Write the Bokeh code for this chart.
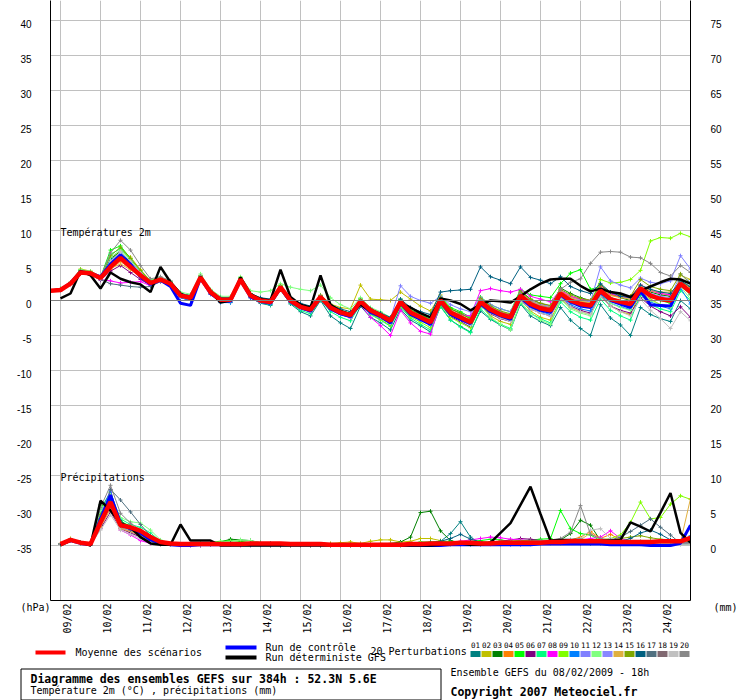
import numpy as np
from bokeh.plotting import figure
from bokeh.models import (Range1d, LinearAxis, FixedTicker, CustomJSTickFormatter,
                          Span, Label, Grid)
from bokeh.embed import file_html
from bokeh.resources import INLINE
from bokeh.core.properties import value

# ---------------- data ----------------
HOURS = list(range(0, 385, 6))          # hours after 08/02/2009 18h
DAY_LABELS = ["09/02", "10/02", "11/02", "12/02", "13/02", "14/02", "15/02", "16/02",
              "17/02", "18/02", "19/02", "20/02", "21/02", "22/02", "23/02", "24/02"]
TEMP_TICKS = [-35, -30, -25, -20, -15, -10, -5, 0, 5, 10, 15, 20, 25, 30, 35, 40]
PRECIP_TICKS = [0, 5, 10, 15, 20, 25, 30, 35, 40, 45, 50, 55, 60, 65, 70, 75]
PERT_NAMES = ["01", "02", "03", "04", "05", "06", "07", "08", "09", "10",
              "11", "12", "13", "14", "15", "16", "17", "18", "19", "20"]
PERT_COLORS = ["#008080", "#c0c000", "#008000", "#ff8000", "#00ff00", "#800080", "#00ff80",
               "#ff00ff", "#80ff00", "#0080ff", "#8080ff", "#80ff80", "#8888ff", "#e0b040",
               "#80a800", "#006080", "#507080", "#806870", "#c0c0c0", "#888888"]

# temperature 2m (degC)
T_MEAN = [1.4,1.5,2.4,4.0,3.9,3.2,4.8,6.1,4.8,3.6, 2.5,3.0,2.4,0.7,0.4,3.3,1.2,0.1,0.1,3.0,
          0.7,0.0,-0.2,1.9,0.0,-0.9,-1.3,0.5,-1.0,-1.7, -2.1,-0.1,-1.4,-2.1,-2.9,-0.2,-1.7,-2.4,-3.1,0.0,
          -1.7,-2.4,-3.1,-0.2,-1.3,-2.0,-2.4,0.7,-0.5,-1.1, -1.4,1.0,0.0,-0.5,-0.7,1.4,0.2,-0.2,-0.5,1.7,
          0.7,0.2,0.0,2.4,1.2]
T_CTRL = [1.4,1.5,2.5,4.1,3.9,3.4,5.2,6.5,5.2,3.4, 2.3,2.9,2.0,-0.4,-0.7,3.2,1.0,0.0,-0.1,2.9,
          0.5,-0.1,-0.4,1.8,-0.2,-1.0,-1.5,0.4,-1.2,-1.9, -2.3,-0.3,-1.7,-2.3,-3.2,-0.4,-2.0,-2.7,-3.4,-0.2,
          -2.0,-2.7,-3.3,-0.5,-1.6,-2.2,-2.7,0.4,-0.8,-1.4, -1.7,0.8,-0.2,-0.8,-1.0,1.2,0.0,-0.5,-1.0,1.3,
          -0.6,-0.7,-0.8,2.3,1.3]
T_DET = [None,0.3,1.0,4.2,3.6,1.7,4.0,3.1,2.6,2.3, 1.2,4.8,2.6,1.0,0.2,3.4,1.3,-0.3,0.0,3.3,
         0.9,0.2,0.0,4.4,0.5,-0.6,-1.0,3.6,-0.6,-1.5, -2.0,-0.6,-1.5,-2.2,-2.8,-0.4,-1.0,-1.8,-2.4,0.3,
         0.0,-0.5,-1.4,-0.6,0.0,-0.1,-0.3,0.6,1.6,2.4, 3.0,3.1,3.1,2.1,1.3,1.7,1.2,1.0,0.5,1.4,
         2.0,2.6,3.1,3.0,2.4]

T_P01 = [1.5,1.6,2.5, 4.3,4.0,3.0, 5.5,6.6,5.6,4.0, 2.6,3.2,2.3,0.5,0.0,3.1, 1.0,-0.2,-0.3,2.8,0.4,-0.4,-0.7,
         1.5,-0.5,-1.6,-2.2,0.0,-2.2,-3.2,-4.0, -0.8,-2.4,-3.2,-4.2,-1.2,-2.8,-3.6,-4.5,
         -0.8,-2.8,-3.7,-4.5,-1.5,-2.7,-3.5,-4.2, -0.5,-2.2,-3.0,-3.6,-1.0,-2.8,-4.0,-5.0,
         -0.6,-2.5,-3.5,-5.0,-1.0,-2.0,-2.6,-3.0,0.0,-1.2]
T_P02 = [1.3,1.5,2.6, 4.5,4.2,3.4, 5.6,7.3,6.2,4.4, 2.8,3.2,2.6,0.9,0.5,3.5, 1.4,0.3,0.3,3.2,1.0,0.3,0.1,
         2.2,0.3,-0.6,-1.0,0.8,-0.5,-1.0,-1.2, 2.2,0.2,0.1,0.0,1.2,0.2,-0.8,-1.5,
         0.8,-1.5,-2.3,-3.3,-0.6,-2.2,-3.0,-3.4, 0.2,-1.5,-2.4,-2.8,0.2,-1.0,-1.6,-2.0,
         0.8,-0.8,-1.6,-2.0,1.2,0.2,-0.6,-0.8,3.6,3.0]
T_P03 = [1.4,1.6,2.5, 4.2,4.0,3.2, 6.0,7.0,5.4,3.8, 2.6,3.1,2.5,0.8,0.5,3.4, 1.3,0.2,0.2,3.1,0.8,0.1,-0.1,
         2.0,0.1,-0.8,-1.2,0.6,-0.9,-1.6,-2.0, 0.2,-1.2,-1.8,-2.6,0.1,-1.4,-2.0,-2.8,
         0.4,-1.2,-1.8,-2.6,0.4,-0.8,-1.6,-2.0, 1.4,0.2,-0.4,-0.8,1.8,1.0,0.4,0.0,
         2.2,1.0,0.4,0.0,2.0,1.2,0.8,0.6,2.8,1.8]
T_P04 = [1.4,1.5,2.4, 3.9,3.8,3.1, 4.4,5.6,4.5,3.4, 2.4,2.9,2.3,0.6,0.3,3.2, 1.1,0.0,0.0,2.9,0.6,-0.1,-0.3,
         1.8,-0.1,-1.0,-1.4,0.4,-1.1,-1.8,-2.2, -0.2,-1.5,-2.2,-3.0,-0.3,-1.8,-2.5,-3.2,
         -0.2,-1.8,-2.5,-3.2,0.0,-1.0,-1.6,-2.0, 1.2,0.0,-0.6,-0.8,1.4,0.5,0.2,0.0,
         1.8,0.8,0.5,0.6,2.2,1.4,1.0,0.8,2.8,1.8]
T_P05 = [1.5,1.7,2.6, 4.4,4.1,3.3, 7.2,7.8,6.0,4.2, 2.9,3.3,2.7,1.0,0.7,3.6, 1.5,0.4,0.3,3.3,0.9,0.2,0.0,
         2.1,0.2,-0.7,-1.1,0.7,-0.8,-1.4,-1.8, 0.3,-1.1,-1.8,-2.6,0.2,-1.3,-2.0,-2.7,
         0.6,-1.0,-1.6,-2.4,0.5,-0.6,-1.2,-1.6, 1.6,0.8,0.6,0.4,2.4,3.9,4.4,1.6,
         2.0,0.4,-0.2,-0.6,1.8,0.6,0.0,-0.4,2.2,0.8]
T_P06 = [1.3,1.4,2.3, 3.8,3.7,2.9, 4.2,5.0,4.0,3.0, 2.2,2.8,2.1,0.4,0.0,3.0, 0.9,-0.2,-0.2,2.7,0.4,-0.3,-0.5,
         1.6,-0.3,-1.2,-1.6,0.2,-1.3,-2.0,-2.4, -0.4,-1.7,-2.5,-3.3,-0.6,-2.1,-2.8,-3.5,
         -0.6,-2.3,-3.0,-3.8,-0.8,-1.9,-2.6,-3.0, 0.0,-1.2,-1.8,-2.2,0.4,-0.8,-1.4,-1.8,
         0.6,-0.8,-1.4,-1.8,0.4,-0.8,-1.6,-2.2,-0.9,-2.4]
T_P07 = [1.4,1.6,2.5, 4.3,4.0,3.2, 6.6,7.4,5.8,4.2, 2.7,3.1,2.5,0.7,0.3,3.4, 1.2,0.0,-0.1,2.9,0.5,-0.3,-0.6,
         1.7,-0.4,-1.4,-1.9,0.1,-1.6,-2.4,-2.9, -0.6,-2.0,-2.8,-3.7,-0.9,-2.5,-3.4,-4.2,
         -0.9,-2.8,-3.8,-4.6,-1.2,-2.6,-3.4,-4.0, -0.4,-1.8,-2.6,-3.2,-0.2,-1.6,-2.4,-2.8,
         0.2,-1.4,-2.2,-2.8,0.8,-0.6,-1.2,-1.6,1.4,0.0]
T_P08 = [1.4,1.5,2.4, 4.0,3.8,3.0, 2.8,2.5,2.6,2.7, 2.1,2.7,2.2,0.5,0.1,3.1, 1.0,-0.1,-0.1,2.8,0.5,-0.2,-0.4,
         1.7,-0.2,-1.1,-1.6,0.3,-1.2,-2.0,-2.5, -0.6,-2.4,-3.6,-5.0,-1.4,-3.2,-4.4,-4.8,
         -0.4,-1.6,-2.0,-2.2,1.4,1.7,1.4,1.2, 1.6,0.6,0.2,-0.2,1.5,0.6,0.2,0.0,
         2.0,1.0,0.6,0.4,2.2,1.4,1.0,0.8,2.6,1.4]
T_P09 = [1.5,1.6,2.5, 4.1,3.9,3.2, 5.0,6.4,5.0,3.7, 2.5,3.0,2.4,0.7,0.4,3.3, 1.2,0.1,0.0,3.0,0.7,0.0,-0.2,
         1.8,-0.1,-1.0,-1.5,0.3,-1.2,-1.9,-2.4, -0.4,-1.9,-2.7,-3.6,-0.8,-2.3,-3.1,-3.9,
         -0.6,-2.4,-3.2,-3.9,-0.8,-1.8,-2.4,-2.8, 0.6,-0.6,-1.2,-1.5,1.0,0.2,-0.2,-0.4,
         3.0,2.5,2.6,3.0,4.3,8.5,9.0,8.9,9.6,9.1]
T_P10 = [1.4,1.5,2.4, 4.0,3.9,3.2, 5.8,6.8,5.2,3.5, 2.3,2.9,2.2,0.4,0.0,3.1, 0.9,-0.3,-0.3,2.8,0.4,-0.3,-0.5,
         1.6,-0.3,-1.2,-1.6,0.2,-1.3,-2.0,-2.4, -0.4,-1.8,-2.5,-3.3,-0.5,-2.0,-2.8,-3.5,
         -0.3,-2.0,-2.8,-3.5,-0.5,-1.6,-2.3,-2.8, 0.2,-1.0,-1.6,-2.0,0.6,-0.6,-1.2,-1.5,
         0.8,-0.4,-0.9,-1.3,1.0,-0.2,-0.8,-1.2,1.8,-0.5]
T_P11 = [1.5,1.6,2.5, 4.2,4.0,3.3, 5.2,6.3,5.0,3.8, 2.6,3.0,2.5,0.8,0.5,3.4, 1.3,0.2,0.2,3.1,0.8,0.1,-0.1,
         2.0,0.1,-0.8,-1.2,0.7,-0.8,-1.5,-1.9, 0.0,-1.2,-1.9,-2.6,2.1,0.6,0.0,-0.4,
         0.6,-0.6,-1.2,-1.6,0.4,-0.6,-1.2,-1.6, 1.2,0.0,-0.6,-0.8,1.2,0.4,0.0,-0.2,
         4.8,2.8,2.2,1.8,3.2,2.6,2.4,2.8,6.4,4.5]
T_P12 = [1.5,1.6,2.6, 4.4,4.2,3.4, 6.2,7.2,5.8,4.2, 2.9,3.3,2.8,1.2,0.9,3.8, 1.6,0.6,0.6,3.4,1.4,1.2,1.4,
         2.4,1.9,1.6,1.4,2.2,0.4,-0.6,-1.2, 0.4,-1.0,-1.6,-2.4,0.2,-1.4,-2.2,-2.9,
         0.0,-1.8,-2.6,-3.4,-0.6,-2.4,-3.4,-4.2, -0.2,-1.8,-2.8,-3.4,0.2,-1.2,-1.8,-2.2,
         1.0,-0.4,-1.0,-1.4,1.2,0.0,-0.6,-1.0,2.0,0.2]
T_P13 = [1.4,1.5,2.4, 4.1,3.9,3.2, 5.4,6.9,5.6,4.0, 2.5,3.0,2.4,0.7,0.3,3.3, 1.1,0.0,0.0,2.9,0.6,-0.1,-0.3,
         1.8,-0.1,-1.0,-1.4,0.4,-1.1,-1.8,-2.2, -0.2,-1.6,-2.3,-3.1,-0.4,-1.9,-2.6,-3.3,
         -0.2,-1.9,-2.6,-3.2,-0.3,-1.4,-2.1,-2.5, 0.9,-0.3,-0.9,-1.2,1.2,0.2,-0.3,-0.5,
         1.6,0.4,0.0,-0.3,2.0,1.0,0.6,0.4,3.8,2.6]
T_P14 = [1.4,1.5,2.4, 4.0,3.9,3.1, 4.6,5.2,4.4,3.4, 2.4,2.9,2.4,0.7,0.4,3.3, 1.2,0.1,0.1,3.0,0.7,0.0,-0.2,
         1.9,0.0,-0.9,-1.3,0.5,-1.0,-1.7,-2.1, 0.0,-1.3,-2.0,-2.8,0.0,-1.5,-2.2,-2.9,
         0.2,-1.4,-2.1,-2.8,0.2,-0.9,-1.6,-2.0, 1.1,-0.1,-0.7,-1.0,1.3,0.4,-0.1,-0.3,
         1.8,0.7,0.4,0.2,2.0,1.4,1.2,1.2,2.2,1.6]
T_P15 = [1.5,1.6,2.5, 4.3,4.1,3.3, 6.4,7.6,6.0,4.3, 2.8,3.2,2.6,0.9,0.6,3.5, 1.4,0.3,0.2,3.2,0.9,0.2,0.0,
         2.1,0.2,-0.7,-1.1,0.7,-0.8,-1.5,-1.9, 0.1,-1.2,-1.9,-2.7,0.1,-1.4,-2.1,-2.8,
         0.4,-1.2,-1.9,-2.6,0.3,-0.8,-1.5,-1.9, 1.2,0.2,-0.4,-0.7,1.6,0.8,0.3,0.0,
         2.2,1.2,0.8,0.6,3.0,2.0,1.6,1.4,3.8,2.4]
T_P16 = [1.4,1.5,2.4, 4.1,3.9,3.1, 5.0,6.0,4.8,3.6, 2.6,3.1,2.6,1.0,0.7,3.3, 1.4,0.4,0.4,3.0,1.0,0.4,0.2,
         1.8,0.3,-0.4,-0.8,0.6,-0.6,-1.2,-1.6, 0.0,-1.2,-1.8,-2.4,0.2,-1.0,-1.6,-2.0,
         1.2,1.4,1.5,1.6,4.8,3.4,2.9,2.4, 4.8,3.3,2.9,2.4,3.4,2.0,1.4,1.0,
         2.4,1.2,0.6,0.4,2.2,1.6,1.2,1.0,2.8,2.0]
T_P17 = [1.4,1.5,2.4, 4.0,3.8,3.0, 2.4,2.2,2.0,1.9, 2.0,2.7,2.2,0.6,0.2,3.1, 1.0,-0.1,-0.1,2.8,0.5,-0.2,-0.4,
         1.7,-0.2,-1.1,-1.5,0.3,-1.2,-1.9,-2.3, -0.3,-1.6,-2.3,-3.1,-0.4,-1.9,-2.6,-3.3,
         -0.1,-1.8,-2.5,-3.2,-0.2,-1.3,-2.0,-2.4, 0.8,-0.4,-1.0,-1.3,1.0,0.0,-0.5,-0.7,
         1.4,0.2,-0.2,-0.5,1.8,0.8,0.4,0.2,2.8,1.4]
T_P18 = [1.4,1.5,2.4, 4.0,3.9,3.2, 4.8,6.0,4.8,3.6, 2.5,3.0,2.4,0.6,0.3,3.2, 1.1,0.0,0.0,2.9,0.6,-0.1,-0.3,
         1.8,-0.1,-1.0,-1.4,0.4,-1.1,-1.8,-2.2, -0.2,-1.5,-2.2,-3.0,-0.3,-1.8,-2.5,-3.2,
         -0.1,-1.8,-2.5,-3.2,-0.3,-1.4,-2.1,-2.5, 0.6,-0.6,-1.2,-1.5,0.9,-0.1,-0.6,-0.8,
         1.3,0.1,-0.3,-0.6,1.6,0.6,0.1,-0.1,2.2,0.9]
T_P19 = [1.3,1.4,2.3, 3.9,3.8,3.1, 5.6,7.0,5.6,3.9, 2.4,2.9,2.3,0.5,0.2,3.1, 1.0,-0.1,-0.1,2.8,0.5,-0.2,-0.4,
         1.7,-0.2,-1.1,-1.5,0.3,-1.2,-1.9,-2.3, -0.3,-1.7,-2.4,-3.2,-0.5,-2.0,-2.7,-3.4,
         -0.4,-2.1,-2.8,-3.5,-0.6,-1.8,-2.5,-3.0, 0.0,-1.2,-1.8,-2.2,0.4,-0.9,-1.6,-2.0,
         0.6,-0.8,-1.6,-2.2,0.2,-1.4,-2.6,-4.0,-1.6,-2.9]
T_P20 = [1.5,1.6,2.5, 4.2,4.0,3.3, 6.8,8.6,7.2,5.0, 3.1,3.4,2.8,1.0,0.6,3.5, 1.4,0.3,0.2,3.1,0.8,0.1,-0.1,
         2.0,0.1,-0.8,-1.2,0.6,-0.9,-1.6,-2.0, 0.0,-1.4,-2.1,-2.9,-0.2,-1.7,-2.4,-3.1,
         0.2,-1.5,-2.2,-2.9,0.0,-1.0,-1.7,-2.1, 1.0,-0.2,-0.8,-1.0,1.6,2.6,3.1,5.3,
         6.9,7.0,6.9,6.2,6.1,5.3,4.0,3.5,5.0,4.0]

# precipitation per 6h (mm); no value at the analysis time
R_MEAN = [None,0.2,0.8,0.4,0.2,3.3,6.2,2.9,2.6,2.1,1.2,0.5,0.3,
          0.2,0.2,0.2,0.2,0.2,0.2,0.2,0.3,0.3,0.3,0.3,0.2,0.2,0.2,0.2,0.1,0.1,0.1,
          0.1,0.1,0.1,0.1,0.1,0.2,0.2,0.3,0.3,0.3, 0.4,0.4,0.3,0.3,0.4,0.4,0.4,0.4,0.4,0.5,
          0.5,0.6,0.6,0.6,0.6,0.5,0.5,0.5,0.5,0.5, 0.6,0.6,0.6,1.1]
R_CTRL = [None,0.2,0.7,0.3,0.1,3.8,7.2,3.2,2.4,1.8,0.8,0.3,0.1,
          0.0,0.0,0.1,0.1,0.1,0.1,0.1,0.1,0.1,0.1,0.1,0.1,0.1,0.1,0.1,0.1,0.1,0.1,
          0.1,0.1,0.0,0.0,0.0,0.0,0.0,0.0,0.0,0.1, 0.1,0.1,0.1,0.1,0.1,0.1,0.1,0.1,0.2,0.2,
          0.2,0.2,0.2,0.2,0.2,0.1,0.1,0.1,0.1,0.0, 0.0,0.0,0.3,2.9]
R_DET = [None,0.0,0.7,0.5,0.0,6.4,5.0,3.2,2.6,1.2,0.3,0.1,0.1,
         3.0,0.7,0.7,0.7,0.0,0.0,0.0,0.0,0.0,0.0,0.0,0.0,0.0,0.0,0.0,0.0,0.0,0.0,
         0.0,0.0,0.0,0.0,0.0,0.0,0.0,0.0,0.1,0.2, 0.3,0.1,0.1,0.4,1.8,3.2,5.8,8.4,4.5,0.7,
         0.8,0.8,0.8,0.7,0.7,0.7,0.8,3.3,2.7,2.0, 4.7,7.5,1.8,0.4]

R_P01 = [None,0.2,0.8,0.3,0.1,4.2,6.8,3.0,2.2,1.5,0.8,0.3,0.1,
         0.0,0.1,0.0,0.1,0.2,0.2,0.3,0.2,0.1,0.1,0.0,0.0,0.0,0.0,0.0,0.0,0.0,0.0,
         0.0,0.1,0.1,0.1,0.0,0.1,0.2,0.4,0.6,1.7, 3.4,1.2,0.3,0.2,0.2,0.3,0.3,0.2,0.3,0.4,
         0.5,0.4,0.3,0.3,0.5,0.3,0.2,0.3,0.2,0.3, 0.2,0.2,0.3,0.4]
R_P02 = [None,0.3,1.0,0.4,0.1,2.8,5.6,2.6,2.0,1.3,0.6,0.2,0.1,
         0.1,0.1,0.2,0.3,0.3,0.3,0.2,0.2,0.1,0.1,0.1,0.0,0.0,0.1,0.2,0.3,0.4,0.5,
         0.3,0.6,0.8,0.8,0.5,0.6,1.0,1.0,0.7,0.4, 0.3,0.2,0.2,0.3,0.3,0.2,0.2,0.3,0.3,0.4,
         0.6,0.5,0.4,0.5,0.8,0.6,0.5,0.4,0.3,0.4, 0.3,0.3,0.6,0.8]
R_P03 = [None,0.2,0.7,0.3,0.1,5.8,6.4,3.6,2.5,1.6,0.7,0.3,0.1,
         0.1,0.1,0.2,0.4,0.5,0.9,0.8,0.7,0.4,0.2,0.1,0.1,0.1,0.1,0.1,0.1,0.1,0.1,
         0.1,0.1,0.2,0.3,0.5,1.2,4.7,4.9,2.1,0.7, 0.4,0.3,0.2,0.3,0.4,0.5,0.6,0.5,0.4,0.5,
         0.8,1.7,3.6,2.9,0.7,0.5,0.4,0.4,0.3,0.3, 0.2,0.2,0.3,0.4]
R_P04 = [None,0.2,0.9,0.3,0.1,3.0,6.0,3.0,2.3,1.4,0.6,0.2,0.1,
         0.1,0.1,0.1,0.2,0.2,0.2,0.2,0.1,0.1,0.1,0.1,0.0,0.0,0.0,0.0,0.0,0.0,0.0,
         0.0,0.1,0.1,0.1,0.1,0.2,0.2,0.3,0.3,0.2, 0.2,0.3,0.3,0.4,0.4,0.5,0.4,0.4,0.4,0.5,
         0.6,0.8,1.2,2.0,1.0,1.6,0.8,0.6,0.5,0.5, 0.4,0.4,0.5,0.6]
R_P05 = [None,0.2,0.8,0.3,0.1,5.2,7.6,3.4,2.8,2.0,1.0,0.4,0.2,
         0.2,0.2,0.3,0.4,0.6,0.7,0.6,0.4,0.3,0.2,0.1,0.1,0.0,0.0,0.0,0.0,0.1,0.1,
         0.1,0.1,0.1,0.2,0.2,0.3,0.5,0.5,0.6,0.6, 0.5,0.6,0.7,0.9,0.8,0.6,0.7,0.8,0.9,1.0,
         5.0,2.4,1.7,1.5,0.7,0.5,0.4,0.3,0.3,0.2, 0.2,0.2,0.2,0.3]
R_P06 = [None,0.2,0.7,0.3,0.1,2.4,4.8,2.4,1.8,1.2,0.5,0.2,0.1,
         0.1,0.0,0.0,0.1,0.1,0.1,0.1,0.1,0.0,0.0,0.0,0.0,0.0,0.0,0.0,0.0,0.0,0.0,
         0.0,0.0,0.1,0.1,0.1,0.1,0.2,0.3,0.4,0.4, 0.6,0.5,0.4,0.5,0.6,0.8,1.0,0.9,0.7,0.6,
         0.5,0.4,0.3,0.3,0.3,0.4,0.4,0.3,0.3,0.2, 0.2,0.3,0.2,0.2]
R_P07 = [None,0.2,0.8,0.4,0.1,4.6,7.0,3.8,3.0,2.6,1.8,0.6,0.2,
         0.1,0.1,0.2,0.2,0.3,0.3,0.2,0.1,0.1,0.0,0.0,0.0,0.0,0.0,0.0,0.0,0.0,0.0,
         0.0,0.0,0.1,0.1,0.2,0.2,0.3,0.3,0.3,0.2, 0.2,0.2,0.2,0.3,0.2,0.2,0.2,0.2,0.3,0.3,
         0.3,0.4,0.4,0.3,0.3,0.3,0.2,0.3,0.3,0.3, 0.3,0.2,0.2,0.3]
R_P08 = [None,0.2,0.7,0.3,0.1,4.0,8.0,2.2,1.5,0.7,0.3,0.1,0.1,
         0.0,0.0,0.0,0.1,0.1,0.1,0.0,0.0,0.0,0.0,0.0,0.0,0.0,0.0,0.0,0.0,0.0,0.0,
         0.0,0.0,0.0,0.1,0.1,0.1,0.1,0.2,0.3,0.4, 0.6,0.8,1.0,1.2,1.1,0.9,0.8,0.7,0.5,0.4,
         0.6,0.6,0.8,1.0,1.2,2.1,1.0,0.6,0.5,0.4, 0.4,0.3,0.3,0.4]
R_P09 = [None,0.2,0.8,0.3,0.1,3.6,6.2,3.0,2.4,1.6,0.8,0.3,0.1,
         0.1,0.1,0.1,0.2,0.2,0.2,0.1,0.1,0.1,0.1,0.1,0.0,0.0,0.0,0.0,0.0,0.0,0.0,
         0.0,0.1,0.1,0.1,0.1,0.2,0.3,0.2,0.2,0.2, 0.3,0.2,0.3,0.4,0.3,0.3,0.4,0.4,0.5,0.5,
         0.6,0.6,0.7,0.6,0.8,1.0,1.5,3.3,6.2,3.8, 4.0,5.9,7.1,6.6]
R_P10 = [None,0.2,0.8,0.4,0.1,4.8,7.8,3.2,2.6,1.8,0.8,0.2,0.1,
         0.1,0.1,0.1,0.1,0.1,0.1,0.1,0.1,0.0,0.0,0.0,0.0,0.0,0.0,0.0,0.0,0.0,0.0,
         0.0,0.0,0.0,0.1,0.1,0.1,0.1,0.1,0.2,0.2, 0.2,0.2,0.3,0.3,0.4,0.3,0.4,0.5,0.4,0.4,
         0.4,0.5,0.6,0.6,0.5,0.5,0.4,0.4,0.4,0.3, 0.3,0.3,0.4,1.4]
R_P11 = [None,0.2,0.7,0.3,0.1,3.4,6.6,2.8,2.2,1.5,0.7,0.2,0.1,
         0.1,0.1,0.1,0.2,0.2,0.2,0.2,0.1,0.1,0.1,0.0,0.0,0.0,0.0,0.0,0.0,0.0,0.0,
         0.0,0.0,0.1,0.1,0.2,0.3,0.3,0.4,0.3,0.2, 0.2,0.1,0.1,0.2,0.2,0.1,0.1,0.2,0.3,0.4,
         0.5,0.6,0.5,0.4,0.4,0.5,0.6,0.5,0.4,0.3, 0.2,0.2,0.3,0.3]
R_P12 = [None,0.2,0.8,0.3,0.1,5.0,7.2,4.0,3.4,3.2,2.2,0.8,0.3,
         0.1,0.1,0.2,0.3,0.5,0.6,0.8,0.7,0.4,0.3,0.2,0.1,0.1,0.0,0.0,0.0,0.0,0.0,
         0.0,0.0,0.0,0.1,0.1,0.2,0.3,0.4,0.4,0.3, 0.3,0.2,0.2,0.3,0.3,0.4,0.4,0.5,0.5,0.5,
         0.5,0.6,0.5,0.5,0.4,0.4,0.3,0.3,0.3,0.2, 0.2,0.2,0.2,0.2]
R_P13 = [None,0.2,0.7,0.3,0.1,3.2,5.4,2.6,2.0,1.4,0.6,0.2,0.1,
         0.1,0.0,0.1,0.1,0.1,0.1,0.1,0.0,0.0,0.0,0.0,0.0,0.0,0.0,0.0,0.0,0.0,0.0,
         0.1,0.1,0.1,0.2,0.2,0.2,0.2,0.3,0.3,0.3, 0.3,0.3,0.3,0.4,0.4,0.4,0.3,0.3,0.4,0.4,
         0.7,0.8,0.7,0.6,0.5,0.6,0.5,0.4,0.3,0.3, 0.2,0.2,0.2,0.3]
R_P14 = [None,0.2,0.9,0.3,0.1,2.6,5.2,2.4,2.0,1.4,0.6,0.2,0.1,
         0.1,0.1,0.2,0.2,0.3,0.3,0.2,0.2,0.1,0.1,0.1,0.1,0.1,0.1,0.1,0.1,0.1,0.1,
         0.2,0.2,0.3,0.3,0.3,0.3,0.4,0.3,0.3,0.2, 0.2,0.2,0.3,0.3,0.3,0.3,0.4,0.4,0.3,0.3,
         0.4,0.5,0.8,1.8,0.8,0.5,0.4,0.4,0.4,0.4, 0.3,0.3,0.5,6.7]
R_P15 = [None,0.2,0.8,0.3,0.1,4.4,7.0,3.2,2.6,1.9,1.0,0.4,0.2,
         0.1,0.1,0.2,0.3,0.3,0.4,0.3,0.2,0.1,0.1,0.1,0.0,0.0,0.0,0.0,0.0,0.0,0.0,
         0.0,0.0,0.1,0.1,0.1,0.1,0.2,0.3,0.3,0.3, 0.4,0.4,0.5,0.5,0.6,0.6,0.7,0.7,0.6,0.5,
         0.6,0.8,0.9,0.7,0.6,0.8,1.0,1.2,1.4,1.1, 0.9,0.8,0.6,0.7]
R_P16 = [None,0.2,0.8,0.3,0.1,3.8,6.4,3.0,2.3,1.6,0.8,0.3,0.1,
         0.1,0.1,0.1,0.2,0.2,0.3,0.2,0.3,0.3,0.3,0.2,0.2,0.1,0.1,0.1,0.1,0.1,0.1,
         0.1,0.1,0.1,0.1,0.1,0.1,0.2,0.4,0.6,1.0, 1.6,0.9,0.5,0.4,0.4,0.4,0.5,0.6,0.6,0.5,
         0.5,0.6,0.6,0.5,0.6,0.8,0.6,1.0,1.8,2.2, 1.6,0.8,0.4,0.4]
R_P17 = [None,0.2,0.8,0.3,0.1,3.0,8.0,6.5,4.8,3.0,1.4,0.5,0.2,
         0.1,0.1,0.1,0.1,0.1,0.1,0.1,0.1,0.1,0.0,0.0,0.0,0.0,0.0,0.0,0.0,0.0,0.0,
         0.0,0.0,0.1,0.1,0.1,0.1,0.2,0.2,0.3,0.3, 0.4,0.3,0.3,0.3,0.4,0.3,0.3,0.4,0.5,0.4,
         0.4,0.5,0.6,0.6,0.6,0.8,1.2,2.0,2.9,3.8, 2.6,1.5,0.3,0.3]
R_P18 = [None,0.2,0.7,0.3,0.1,3.4,6.0,2.8,2.2,1.6,0.8,0.3,0.1,
         0.1,0.1,0.1,0.1,0.1,0.1,0.1,0.1,0.0,0.0,0.0,0.0,0.0,0.0,0.0,0.0,0.0,0.0,
         0.0,0.0,0.1,0.1,0.1,0.2,0.2,0.2,0.2,0.2, 0.2,0.2,0.2,0.3,0.3,0.3,0.3,0.3,0.3,0.4,
         0.4,0.4,0.5,0.5,0.5,0.6,0.6,0.5,0.5,0.4, 0.4,0.4,0.3,0.4]
R_P19 = [None,0.2,0.7,0.3,0.1,2.2,4.4,2.2,1.6,1.0,0.4,0.1,0.1,
         0.0,0.0,0.0,0.1,0.1,0.1,0.1,0.0,0.0,0.0,0.0,0.0,0.0,0.0,0.0,0.0,0.0,0.0,
         0.0,0.0,0.0,0.1,0.1,0.1,0.1,0.2,0.2,0.2, 0.2,0.2,0.2,0.2,0.2,0.2,0.3,0.3,0.4,0.5,
         0.6,0.8,1.0,2.2,2.4,1.0,0.6,0.4,0.3,0.3, 0.2,0.2,0.2,0.2]
R_P20 = [None,0.2,0.8,0.3,0.1,5.4,8.6,4.6,3.2,2.2,1.2,0.4,0.2,
         0.1,0.1,0.1,0.1,0.2,0.2,0.1,0.1,0.1,0.1,0.0,0.0,0.0,0.0,0.0,0.0,0.0,0.0,
         0.0,0.0,0.1,0.1,0.1,0.1,0.2,0.2,0.2,0.3, 0.3,0.3,0.4,0.4,0.5,0.5,0.6,0.6,0.7,0.8,
         1.0,1.9,5.7,1.6,1.0,0.8,0.7,0.6,0.6,0.5, 0.5,0.4,0.4,0.5]

T_PERTS = [T_P01, T_P02, T_P03, T_P04, T_P05, T_P06, T_P07, T_P08, T_P09, T_P10,
           T_P11, T_P12, T_P13, T_P14, T_P15, T_P16, T_P17, T_P18, T_P19, T_P20]
R_PERTS = [R_P01, R_P02, R_P03, R_P04, R_P05, R_P06, R_P07, R_P08, R_P09, R_P10,
           R_P11, R_P12, R_P13, R_P14, R_P15, R_P16, R_P17, R_P18, R_P19, R_P20]

for s in T_PERTS + R_PERTS + [T_MEAN, T_CTRL, T_DET, R_MEAN, R_CTRL, R_DET]:
    assert len(s) == len(HOURS), len(s)


def arr(v):
    return np.array([np.nan if x is None else x for x in v], dtype=float)


MONO = "DejaVu Sans Mono"
SANS = "Liberation Sans"

# ---------------- geometry (page pixels) ----------------
W = 740
LEFT, RIGHT, TOP, BOTTOM = 50, 690, 0, 600
X_END = 384.0
PX_PER_H = (RIGHT - LEFT) / X_END
PX_PER_DEG = 7.0
Y_TOP = (300 - TOP) / PX_PER_DEG
Y_BOTTOM = (300 - BOTTOM) / PX_PER_DEG
P_H = BOTTOM + 2          # main chart height (frame + axis line)
Q_H = 700 - P_H           # strip below: date labels, legend, caption

# ---------------- main chart ----------------
p = figure(width=W, height=P_H, x_range=Range1d(0, X_END), y_range=Range1d(Y_BOTTOM, Y_TOP),
           x_axis_type=None, y_axis_type=None, output_backend="svg", toolbar_location=None,
           min_border_left=LEFT, min_border_right=W - RIGHT, min_border_top=TOP,
           min_border_bottom=P_H - BOTTOM)
p.extra_y_ranges = {"precip": Range1d(Y_BOTTOM + 35, Y_TOP + 35)}
p.outline_line_color = None
p.background_fill_color = "white"
p.border_fill_color = "white"

day_ticks = [6 + 24 * k for k in range(len(DAY_LABELS))]
p.add_layout(Grid(dimension=0, ticker=FixedTicker(ticks=day_ticks),
                  grid_line_color="#c0c0c0", grid_line_width=1))
p.add_layout(Grid(dimension=1, ticker=FixedTicker(ticks=[v for v in TEMP_TICKS if v != 0]),
                  grid_line_color="#c0c0c0", grid_line_width=1))
p.add_layout(Span(location=0, dimension="width", line_color="#808080", line_width=1))

LABEL_SHIFT = 3.0 / 7.0


def style_axis(ax, standoff, font, size):
    ax.axis_line_color = "black"
    ax.axis_line_width = 1
    ax.major_tick_out = 0
    ax.major_tick_in = 0
    ax.minor_tick_out = 0
    ax.minor_tick_in = 0
    ax.major_label_standoff = standoff
    ax.major_label_text_color = "black"
    ax.major_label_text_font = font
    ax.major_label_text_font_size = size


yl = LinearAxis(ticker=FixedTicker(ticks=[v - LABEL_SHIFT for v in TEMP_TICKS]),
                formatter=CustomJSTickFormatter(code="return String(Math.round(tick + 3/7));"))
style_axis(yl, 19, SANS, "10px")
p.add_layout(yl, "left")

yr = LinearAxis(y_range_name="precip",
                ticker=FixedTicker(ticks=[v - LABEL_SHIFT for v in PRECIP_TICKS]),
                formatter=CustomJSTickFormatter(code="return String(Math.round(tick + 3/7));"))
style_axis(yr, 20, SANS, "10px")
p.add_layout(yr, "right")

# bottom axis line only; its date labels are drawn in the strip below with the same hour scale
xb = LinearAxis(ticker=FixedTicker(ticks=[]))
style_axis(xb, 0, MONO, "10px")
p.add_layout(xb, "below")

x = np.array(HOURS, dtype=float)

for tser, rser, col in zip(T_PERTS, R_PERTS, PERT_COLORS):
    ty = arr(tser)
    ry = arr(rser)
    p.line(x, ty, line_color=col, line_width=1)
    p.scatter(x, ty, marker="cross", size=4, line_color=col, line_width=1)
    p.line(x, ry, y_range_name="precip", line_color=col, line_width=1)
    p.scatter(x, ry, y_range_name="precip", marker="cross", size=4, line_color=col, line_width=1)

p.line(x, arr(T_CTRL), line_color="#0000ff", line_width=3)
p.line(x, arr(R_CTRL), y_range_name="precip", line_color="#0000ff", line_width=3)
p.line(x, arr(T_DET), line_color="black", line_width=2.5)
p.line(x, arr(R_DET), y_range_name="precip", line_color="black", line_width=2.5)
p.line(x, arr(T_MEAN), line_color="#ff0000", line_width=4.5)
p.line(x, arr(R_MEAN), y_range_name="precip", line_color="#ff0000", line_width=4.5)

for py, txt in [(232, "Températures 2m"), (477, "Précipitations")]:
    p.add_layout(Label(x=(60 - LEFT) / PX_PER_H, y=(300 - py) / PX_PER_DEG, text=txt,
                       text_font=MONO, text_font_size="10px", text_baseline="middle",
                       text_align="left", text_color="black"))

# ---------------- strip below the chart ----------------
# x: same hour scale as the chart, y: page pixels (downwards)
q = figure(width=W, height=Q_H,
           x_range=Range1d(-LEFT / PX_PER_H, (W - LEFT) / PX_PER_H),
           y_range=Range1d(700, P_H),
           x_axis_type=None, y_axis_type=None, output_backend="svg", toolbar_location=None,
           min_border=0, min_border_left=0, min_border_right=0, min_border_top=0,
           min_border_bottom=0)
q.outline_line_color = None
q.background_fill_color = "white"
q.border_fill_color = "white"


def hx(px):   # page pixel -> hours
    return (px - LEFT) / PX_PER_H


def qtext(px, py, txt, size="10px", style="normal", align="left"):
    q.text(x=[hx(px)], y=[py], text=[txt], text_font=value(MONO), text_font_size=value(size),
           text_font_style=value(style), text_baseline=value("middle"), text_align=value(align),
           text_color="black")


def qbox(l, r, t, b, fill):
    q.quad(left=[hx(l)], right=[hx(r)], top=[t], bottom=[b], fill_color=fill, line_color=None)


# date tick labels (vertical, reading upwards, just right of each day line)
q.text(x=[t + 4 for t in day_ticks], y=[603] * len(day_ticks), text=DAY_LABELS,
       angle=np.pi / 2, text_font=value(MONO), text_font_size=value("10px"),
       text_baseline=value("middle"), text_align=value("right"), text_color="black")

qtext(20, 607, "(hPa)")
qtext(713, 607, "(mm)")

qbox(35, 65, 650, 654, "#ff0000")
qtext(75, 652, "Moyenne des scénarios")
qbox(225, 256, 645, 649, "#0000ff")
qbox(225, 256, 655, 659, "black")
qtext(265, 647, "Run de contrôle")
qtext(265, 657, "Run déterministe GFS")
qtext(370, 651, "20 Perturbations")

box_left = [470 + 11 * k for k in range(len(PERT_NAMES))]
q.quad(left=[hx(b) for b in box_left], right=[hx(b + 10) for b in box_left],
       top=[650.5] * len(box_left), bottom=[656.5] * len(box_left),
       fill_color=PERT_COLORS, line_color=None)
q.text(x=[hx(b + 5) for b in box_left], y=[644] * len(box_left), text=PERT_NAMES,
       text_font=value(MONO), text_font_size=value("7.5px"), text_baseline=value("middle"),
       text_align=value("center"), text_color="black")

q.quad(left=[hx(20.5)], right=[hx(440.5)], top=[668.5], bottom=[699.5], fill_color=None,
       line_color="black", line_width=1)
qtext(30, 678, "Diagramme des ensembles GEFS sur 384h : 52.3N 5.6E", size="11.5px", style="bold")
qtext(30, 690, "Température 2m (°C) , précipitations (mm)")
qtext(450, 672, "Ensemble GEFS du 08/02/2009 - 18h")
qtext(450, 691, "Copyright 2007 Meteociel.fr", size="11.5px", style="bold")

open("out.html", "w").write(file_html([p, q], INLINE))
